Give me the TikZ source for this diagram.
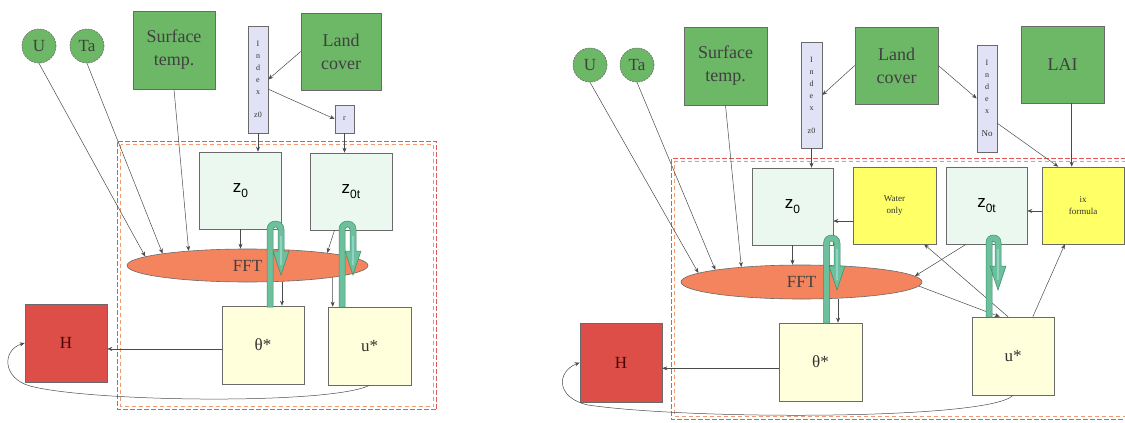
\documentclass[tikz,border=0pt]{standalone}
\usepackage{fontspec}
\setmainfont{Liberation Serif}
\newfontfamily\sansz{Liberation Sans}
\usetikzlibrary{shapes.geometric,arrows.meta,calc}

\definecolor{leafgreen}{HTML}{6DB866}
\definecolor{mint}{HTML}{EAF8F0}
\definecolor{cream}{HTML}{FFFFDC}
\definecolor{lemon}{HTML}{FFFF66}
\definecolor{lilac}{HTML}{E2E2F6}
\definecolor{salmon}{HTML}{F4845E}
\definecolor{brick}{HTML}{DE4E48}
\definecolor{hookfill}{HTML}{6CC19C}
\definecolor{hookedge}{HTML}{3E8E6E}
\definecolor{hooklight}{HTML}{8FD2C6}
\definecolor{edge}{HTML}{6A6A6A}
\definecolor{wire}{HTML}{4A4A4A}
\definecolor{borderred}{HTML}{E05A5A}
\definecolor{borderorange}{HTML}{F09870}

% roughness length with subscript
\newcommand{\zz}[1]{{\sansz\fontsize{17}{20}\selectfont z\raisebox{-5pt}{\fontsize{12}{13}\selectfont #1}}}

% thick U-turn arrow: stem x, return-leg x, arch top y, stem foot y, tip y
\newcommand{\uhook}[5]{%
  \pgfmathsetmacro\hA{#1-3}\pgfmathsetmacro\hB{#1+3}%
  \pgfmathsetmacro\hC{#2-3}\pgfmathsetmacro\hD{#2+3}%
  \pgfmathsetmacro\hR{(#2-#1)/2}%
  \pgfmathsetmacro\hT{#3+\hR+3}%
  \pgfmathsetmacro\hK{1.33*(\hR+3)}%
  \pgfmathsetmacro\hk{1.33*(\hR-3)}%
  \pgfmathsetmacro\hH{#5-24}%
  \pgfmathsetmacro\hE{#2-8}\pgfmathsetmacro\hF{#2+8}%
  \filldraw[fill=hookfill, draw=hookedge, line width=0.5pt]
    (\hA,#4) -- (\hA,\hT) .. controls (\hA,\hT-\hK) and (\hD,\hT-\hK) .. (\hD,\hT)
    -- (\hD,\hH) -- (\hF,\hH) -- (#2,#5) -- (\hE,\hH) -- (\hC,\hH) -- (\hC,\hT)
    .. controls (\hC,\hT-\hk) and (\hB,\hT-\hk) .. (\hB,\hT) -- (\hB,#4) -- cycle;
  \draw[hooklight, line width=1.2pt] (#2,\hT+6) -- (#2,#5-10);
}

\tikzset{
  box/.style={draw=edge, line width=0.6pt, inner sep=0pt, align=center},
  src/.style={box, fill=leafgreen, text=black!75, font=\fontsize{18}{23}\selectfont},
  var/.style={circle, draw=edge, dash pattern=on 2pt off 1pt, line width=0.6pt, fill=leafgreen,
    minimum size=34pt, inner sep=0pt, text=black!75, font=\fontsize{17}{20}\selectfont},
  idx/.style={box, fill=lilac, minimum width=20pt, minimum height=107pt, text=black!80,
    font=\fontsize{8}{12}\selectfont},
  rough/.style={box, fill=mint, minimum width=82pt, minimum height=77pt},
  flux/.style={box, fill=cream, minimum width=82pt, minimum height=78pt,
    text=black!80, font=\fontsize{17}{20}\selectfont},
  cond/.style={box, fill=lemon, minimum width=83pt, minimum height=77pt,
    text=black!80, font=\fontsize{9}{12}\selectfont},
  fft/.style={ellipse, draw=edge, line width=0.6pt, fill=salmon, inner sep=0pt,
    text=black!75, font=\fontsize{17}{20}\selectfont},
  heat/.style={box, fill=brick, minimum width=82pt, minimum height=78pt,
    text=red!30!black, font=\fontsize{17}{20}\selectfont},
  arr/.style={draw=wire, line width=0.5pt, -{Stealth[length=5pt,width=4pt]}},
  outerborder/.style={draw=borderred, line width=1pt, dash pattern=on 5pt off 2pt},
  innerborder/.style={draw=borderorange, line width=1pt, dash pattern=on 4pt off 3pt}
}

\begin{document}
\begin{tikzpicture}[x=1pt, y=-1pt]
\useasboundingbox[fill=white] (0,0) rectangle (1125,423);

% ---------------- left scheme ----------------
\draw[outerborder] (117.5,141.5) rectangle (436.5,409.5);
\draw[innerborder] (120.5,144.5) rectangle (433.5,406.5);

\node[var] (U1) at (39,46) {U};
\node[var] (Ta1) at (87,46) {Ta};
\node[src, minimum width=82pt, minimum height=78pt] (ST1) at (174,50) {Surface\\temp.};
\node[idx] (IX1) at (258,79.5) {I\\n\\d\\e\\x\\[11pt]z0};
\node[src, minimum width=80pt, minimum height=77pt] (LC1) at (341,51.5) {Land\\cover};
\node[box, fill=lilac, minimum width=19pt, minimum height=28pt, text=black!80,
  font=\fontsize{8}{9}\selectfont] (R1) at (344.5,119) {r};
\node[rough] (Z1) at (240.5,190.5) {\zz{0}};
\node[rough] (ZT1) at (351,191.5) {\zz{0t}};
\node[fft, minimum width=241pt, minimum height=33pt] (F1) at (247.5,265.5) {FFT};
\node[flux] (TH1) at (263,345) {θ*};
\node[flux, minimum width=83pt] (US1) at (369.5,346) {u*};
\node[heat] (H1) at (66,343) {H};

\draw[arr] (U1.south) -- (F1.175);
\draw[arr] (Ta1.south) -- (F1.172);
\draw[arr] (ST1.south) -- (F1.166);
\draw[arr] (Z1.south) -- (Z1.south |- F1.north);
\draw[arr] ($(ZT1.south west)!0.3!(ZT1.south east)$) -- (F1.9);
\coordinate (t1) at ($(TH1.north west)!0.73!(TH1.north east)$);
\draw[arr] (F1.south -| t1) -- (t1);
\coordinate (u1) at ($(US1.north west)!0.06!(US1.north east)$);
\draw[arr] (F1.-8) -- (u1);
\draw[arr] (LC1.west) -- (IX1.east);
\draw[arr] ($(IX1.north east)!0.59!(IX1.south east)$) -- (R1.west);
\draw[arr] (IX1.south) -- (IX1.south |- Z1.north);
\draw[arr] (R1.south) -- (R1.south |- ZT1.north);
\coordinate (h1) at ($(TH1.north west)!0.55!(TH1.south west)$);
\draw[arr] (h1) -- (h1 -| H1.east);
\draw[arr] (US1.south) .. controls (330,405) and (90,402) .. (30,386)
  .. controls (2,378) and (2,350) .. (H1.west);

\uhook{270}{281}{221}{307}{275}
\uhook{342}{353}{221}{307}{275}

% ---------------- right scheme ----------------
\draw[outerborder] (1126,158.5) -- (671.5,158.5) -- (671.5,419.5) -- (1126,419.5);
\draw[innerborder] (1126,161.5) -- (674.5,161.5) -- (674.5,416.5) -- (1126,416.5);

\node[var] (U2) at (590,65) {U};
\node[var] (Ta2) at (637,65) {Ta};
\node[src, minimum width=83pt, minimum height=78pt] (ST2) at (725.5,66) {Surface\\temp.};
\node[idx, minimum width=21pt, minimum height=106pt] (IX2) at (811.5,95) {I\\n\\d\\e\\x\\[11pt]z0};
\node[src, minimum width=83pt, minimum height=77pt] (LC2) at (896.5,65.5) {Land\\cover};
\node[idx] (IN2) at (987,98.5) {I\\n\\d\\e\\x\\[11pt]{\fontsize{9}{10}\selectfont No}};
\node[src, minimum width=83pt, minimum height=77pt] (LAI2) at (1062.5,64.5) {LAI};
\node[rough, minimum width=81pt] (Z2) at (792.5,206.5) {\zz{0}};
\node[cond] (W2) at (894.5,205.5) {Water\\only};
\node[rough, minimum width=81pt] (ZT2) at (986.5,205.5) {\zz{0t}};
\node[cond, minimum width=82pt] (IXF2) at (1083,205.5) {ix\\formula};
\node[fft, minimum width=241pt, minimum height=34pt] (F2) at (801.5,282) {FFT};
\node[flux, minimum width=83pt] (TH2) at (820.5,362) {θ*};
\node[flux] (US2) at (1013,356) {u*};
\node[heat, minimum height=79pt] (H2) at (621,362.5) {H};

\draw[arr] (U2.south) -- (F2.175);
\draw[arr] (Ta2.south) -- (F2.172);
\draw[arr] (ST2.south) -- (F2.166);
\draw[arr] (Z2.south) -- (Z2.south |- F2.north);
\coordinate (w2) at ($(W2.north west)!0.7!(W2.south west)$);
\draw[arr] (w2) -- (w2 -| Z2.east);
\coordinate (x2) at ($(IXF2.north west)!0.57!(IXF2.south west)$);
\draw[arr] (x2) -- (x2 -| ZT2.east);
\draw[arr] (IX2.south) -- (IX2.south |- Z2.north);
\draw[arr] (LC2.west) -- (IX2.east);
\draw[arr] (LC2.east) -- (IN2.west);
\draw[arr] ($(IN2.north east)!0.73!(IN2.south east)$) -- ($(IXF2.north west)!0.2!(IXF2.north east)$);
\coordinate (l2) at ($(LAI2.south west)!0.61!(LAI2.south east)$);
\draw[arr] (l2) -- (l2 |- IXF2.north);
\draw[arr] ($(ZT2.south west)!0.25!(ZT2.south east)$) -- (F2.3);
\draw[arr] (F2.-2) -- ($(US2.north west)!0.34!(US2.north east)$);
\draw[arr] ($(US2.north west)!0.44!(US2.north east)$) -- ($(W2.south west)!0.855!(W2.south east)$);
\draw[arr] ($(US2.north west)!0.74!(US2.north east)$) -- ($(IXF2.south west)!0.28!(IXF2.south east)$);
\coordinate (t2) at ($(TH2.north west)!0.71!(TH2.north east)$);
\draw[arr] (F2.south -| t2) -- (t2);
\coordinate (h2) at ($(TH2.north west)!0.58!(TH2.south west)$);
\draw[arr] (h2) -- (h2 -| H2.east);
\draw[arr] (US2.south) .. controls (990,420) and (690,420) .. (588,405)
  .. controls (556,398) and (556,372) .. (H2.west);

\uhook{826.5}{837}{235}{323}{290}
\uhook{989}{998}{235}{317}{290}
\end{tikzpicture}
\end{document}
